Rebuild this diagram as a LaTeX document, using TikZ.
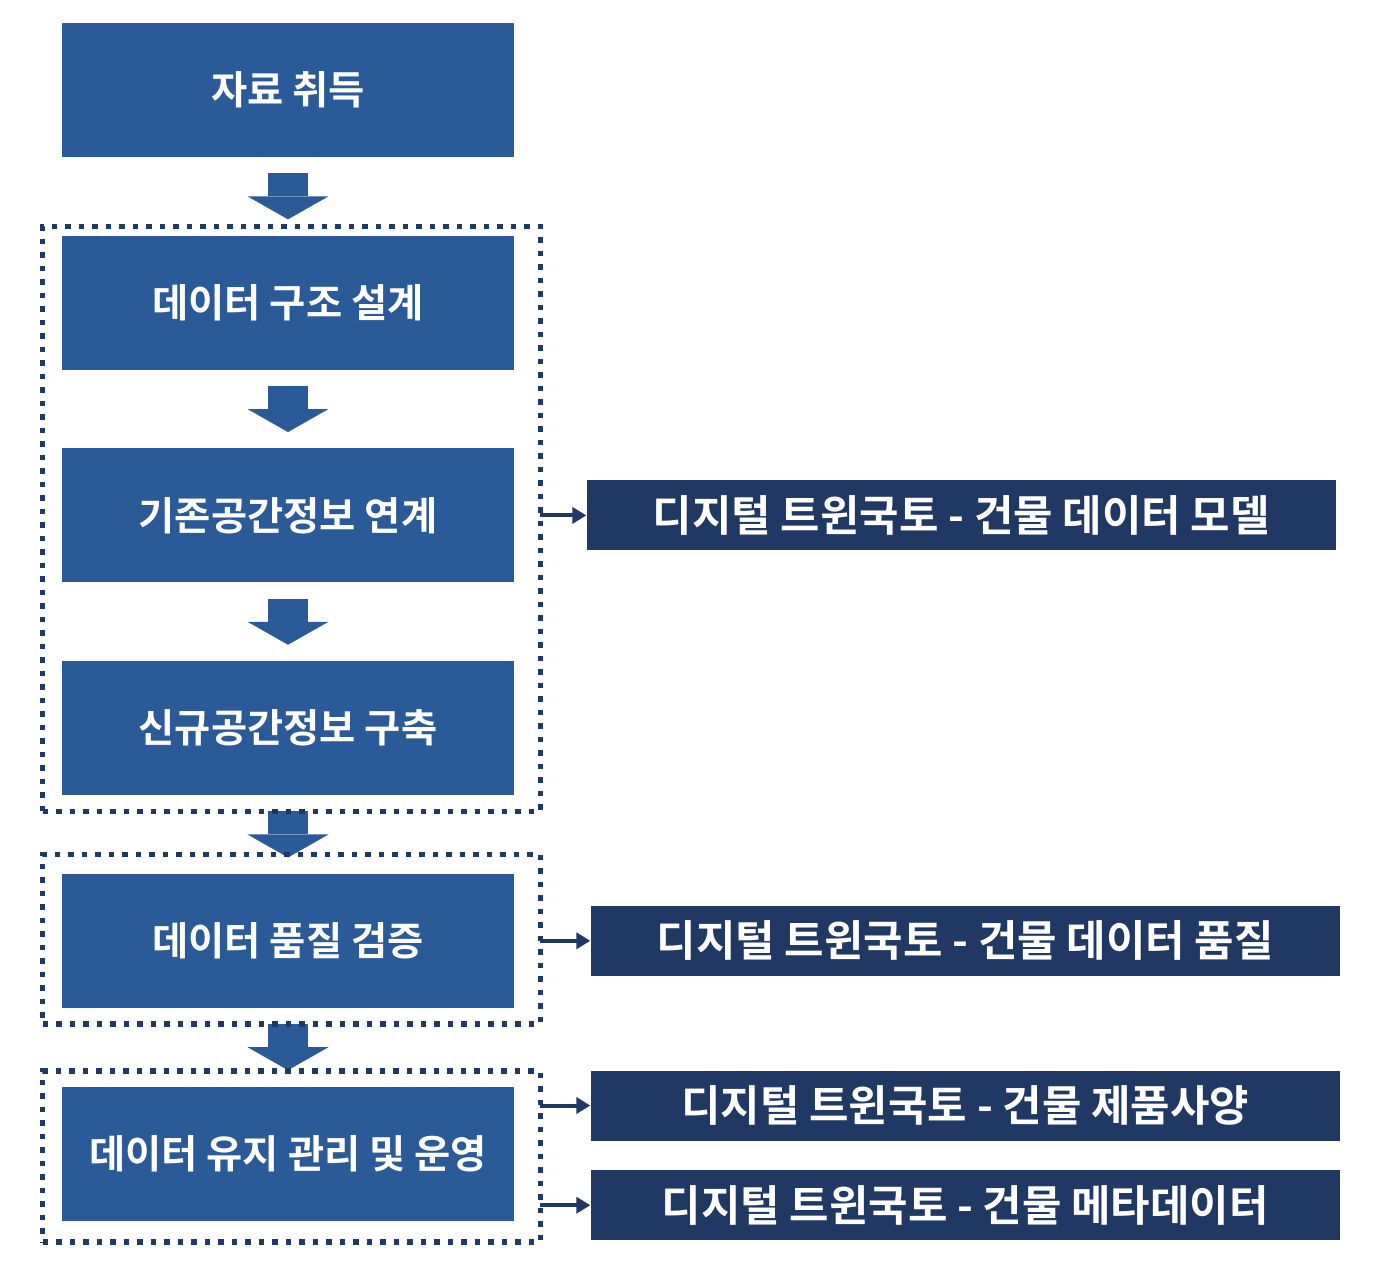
\documentclass[tikz,border=0pt]{standalone}
\usepackage{fontspec}
\usepackage{tikz}
\usepackage{xcolor}
\usetikzlibrary{positioning}
\usetikzlibrary{fit}
\usetikzlibrary{arrows.meta}
\setmainfont{Noto Sans CJK KR}[BoldFont={Noto Sans CJK KR Bold}]
\definecolor{blue-a}{HTML}{2A5A98}
\definecolor{navy-a}{HTML}{203864}

\begin{document}
\begin{tikzpicture}
[
box-a/.style={rectangle, fill = blue-a, text = white, minimum width = 90.40mm, minimum height = 26.80mm, inner sep = 0mm, font = \bfseries\fontsize{22.4}{27}\selectfont},
box-b/.style={rectangle, fill = navy-a, text = white, minimum width = 149.80mm, minimum height = 14.00mm, inner sep = 0mm, font = \bfseries\fontsize{24.4}{29}\selectfont},
frame-a/.style={rectangle, draw = navy-a, line width = 1.10mm, dash pattern = on 1.10mm off 1.60mm, inner sep = 0mm, outer sep = 0mm},
flow-a/.style={draw = blue-a, line width = 8.00mm, shorten < = 3.20mm, shorten > = 3.20mm, -{Triangle[length = 4.60mm, width = 16.20mm, line width = 0mm]}},
link-a/.style={draw = navy-a, line width = 0.80mm, -{Triangle[length = 2.80mm, width = 3.20mm]}}
]
\useasboundingbox (0mm,0mm) rectangle (276.20mm,-254.00mm);
% left column
\node (box-1)      [box-a] at (57.60mm,-18.00mm)         {자료 취득};
\node (box-2)      [box-a, below =  15.60mm of box-1]     {데이터 구조 설계};
\node (box-3)      [box-a, below =  15.60mm of box-2]     {기존공간정보 연계};
\node (box-4)      [box-a, below =  15.60mm of box-3]     {신규공간정보 구축};
\node (box-5)      [box-a, below =  15.60mm of box-4]     {데이터 품질 검증};
\node (box-6)      [box-a, below =  15.60mm of box-5]     {데이터 유지 관리 및 운영};
% right column
\node (box-r1)     [box-b, right =  14.40mm of box-3]     {디지털 트윈국토 - 건물 데이터 모델};
\node (box-r2)     [box-b, right =  15.20mm of box-5]     {디지털 트윈국토 - 건물 데이터 품질};
\node (box-r3)     [box-b, right =  15.20mm of box-6, yshift = 9.60mm] {디지털 트윈국토 - 건물 제품사양};
\node (box-r4)     [box-b, below =  05.80mm of box-r3]    {디지털 트윈국토 - 건물 메타데이터};
% flow
\draw [flow-a] (box-1) -- (box-2);
\draw [flow-a] (box-2) -- (box-3);
\draw [flow-a] (box-3) -- (box-4);
\draw [flow-a] (box-4) -- (box-5);
\draw [flow-a] (box-5) -- (box-6);
% frames
\coordinate (frame-1-nw) at ([xshift = -3.80mm, yshift =  1.80mm]box-2.north west);
\coordinate (frame-1-se) at ([xshift =  5.20mm, yshift = -3.20mm]box-4.south east);
\coordinate (frame-2-nw) at ([xshift = -3.80mm, yshift =  3.80mm]box-5.north west);
\coordinate (frame-2-se) at ([xshift =  5.20mm, yshift = -3.20mm]box-5.south east);
\coordinate (frame-3-nw) at ([xshift = -3.80mm, yshift =  3.00mm]box-6.north west);
\coordinate (frame-3-se) at ([xshift =  5.20mm, yshift = -4.20mm]box-6.south east);
\node (frame-1)    [frame-a, fit = (frame-1-nw) (frame-1-se)] {};
\node (frame-2)    [frame-a, fit = (frame-2-nw) (frame-2-se)] {};
\node (frame-3)    [frame-a, fit = (frame-3-nw) (frame-3-se)] {};
% links
\draw [link-a] (frame-1.east |- box-r1.west) -- (box-r1.west);
\draw [link-a] (frame-2.east |- box-r2.west) -- (box-r2.west);
\draw [link-a] (frame-3.east |- box-r3.west) -- (box-r3.west);
\draw [link-a] (frame-3.east |- box-r4.west) -- (box-r4.west);
\end{tikzpicture}
\end{document}
